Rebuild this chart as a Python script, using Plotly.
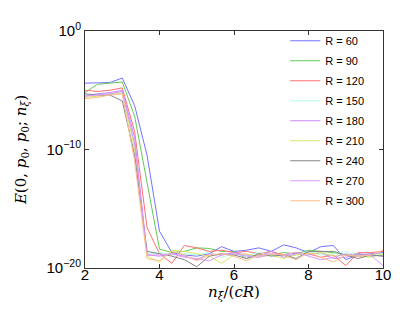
import plotly.graph_objects as go

# x grid n_xi/(cR)
x_vals = [2 + k / 3 for k in range(25)]

# log10 of E values
R60 = [-4.4, -4.4, -4.35, -3.97, -6.3, -10.5, -16.9, -18.7, -18.9, -19.0, -18.8, -18.2, -18.6, -18.5, -18.3, -18.6, -18.05, -18.3, -18.7, -18.2, -18.1, -19.3, -18.9, -18.8, -18.7]
R90 = [-5.2, -4.5, -4.4, -4.3, -7.2, -12.8, -18.4, -18.7, -18.6, -18.3, -18.35, -18.6, -18.6, -19.2, -18.9, -18.9, -18.7, -18.8, -18.5, -18.6, -18.7, -18.9, -18.8, -19.0, -18.9]
R120 = [-5.0, -5.1, -5.0, -4.8, -8.5, -16.6, -18.8, -19.6, -18.1, -18.3, -18.6, -18.5, -18.7, -18.6, -18.8, -18.6, -18.9, -18.7, -18.8, -19.1, -18.9, -19.8, -18.7, -18.7, -18.6]
R150 = [-5.4, -5.3, -5.3, -5.2, -9.5, -18.8, -18.7, -18.9, -18.8, -18.9, -18.7, -19.1, -18.8, -19.0, -18.7, -18.8, -19.0, -18.9, -18.6, -18.9, -18.8, -18.6, -19.0, -18.9, -18.8]
R180 = [-5.5, -5.3, -5.2, -5.0, -9.0, -18.9, -19.0, -18.8, -19.0, -19.3, -18.8, -18.9, -18.7, -18.9, -19.0, -18.6, -19.1, -18.8, -18.9, -18.7, -19.2, -19.1, -18.8, -18.9, -19.0]
R210 = [-5.6, -5.5, -5.4, -5.2, -10.0, -19.0, -19.5, -18.5, -18.6, -18.8, -19.0, -19.6, -18.9, -18.8, -19.1, -18.9, -19.2, -18.9, -18.8, -18.7, -19.0, -18.9, -19.0, -19.1, -18.8]
R240 = [-5.3, -5.4, -5.4, -5.9, -10.5, -18.6, -18.8, -19.0, -19.3, -19.9, -19.0, -18.8, -18.9, -19.2, -18.8, -19.0, -18.9, -19.2, -18.6, -18.6, -18.6, -18.9, -19.2, -18.9, -19.0]
R270 = [-5.5, -5.4, -5.3, -5.1, -9.5, -18.9, -18.9, -18.8, -19.1, -19.2, -19.4, -18.9, -18.8, -19.0, -19.1, -18.8, -18.9, -18.7, -19.0, -19.3, -19.1, -18.8, -19.0, -18.9, -19.8]
R300 = [-5.7, -5.6, -5.4, -5.3, -11.0, -19.2, -19.4, -18.6, -18.9, -19.4, -18.9, -18.8, -19.0, -19.4, -18.9, -18.8, -18.9, -19.3, -18.7, -19.1, -19.5, -18.9, -19.0, -18.9, -18.5]

series_names = ["R = 60", "R = 90", "R = 120", "R = 150", "R = 180",
                "R = 210", "R = 240", "R = 270", "R = 300"]
series_logs = [R60, R90, R120, R150, R180, R210, R240, R270, R300]
colors = ["#7373ff", "#62c955", "#ff6f6f", "#b3ffe2", "#cc88ff",
          "#d4e866", "#858585", "#dd99ff", "#ffbb8c"]

y_tickvals = [1e-20, 1e-10, 1e0]
y_ticktext = ["10<sup>\u221220</sup>", "10<sup>\u221210</sup>", "10<sup>0</sup>"]
x_tickvals = [2, 4, 6, 8, 10]

fig = go.Figure()
for name, logs, col in zip(series_names, series_logs, colors):
    fig.add_trace(go.Scatter(
        x=x_vals, y=[10 ** v for v in logs], mode="lines", name=name,
        legendgroup=name,
        line=dict(color=col, width=1),
    ))

axis_col = "#333333"
fig.update_layout(
    width=415, height=313,
    margin=dict(l=77, r=40, t=23, b=53),
    paper_bgcolor="white", plot_bgcolor="white",
    font=dict(family="Liberation Sans, Arial, sans-serif", color="black"),
    showlegend=True,
    legend=dict(
        x=0.672, y=1.02, xanchor="left", yanchor="top",
        bgcolor="rgba(255,255,255,0)", borderwidth=0,
        font=dict(size=11, family="Liberation Sans, Arial, sans-serif"),
        tracegroupgap=1, maxheight=1,
    ),
    xaxis=dict(
        range=[2, 10], tickvals=x_tickvals,
        showgrid=False, zeroline=False,
        showline=True, linecolor=axis_col, linewidth=1, mirror="ticks",
        ticks="inside", ticklen=4, tickcolor=axis_col,
        tickfont=dict(size=15), ticklabelstandoff=-7,
        title=dict(text="<i>n</i><sub><i>ξ</i></sub>/(<i>cR</i>)",
                   font=dict(size=15, family="DejaVu Serif, serif"), standoff=0),
    ),
    yaxis=dict(
        type="log", range=[-20, 0], tickvals=y_tickvals, ticktext=y_ticktext,
        showgrid=False, zeroline=False,
        showline=True, linecolor=axis_col, linewidth=1, mirror="ticks",
        ticks="inside", ticklen=4, tickcolor=axis_col,
        tickfont=dict(size=15),
        title=dict(text="<i>E</i>(0, <i>p</i><sub>0</sub>, <i>p</i><sub>0</sub>; <i>n</i><sub><i>ξ</i></sub>)",
                   font=dict(size=15, family="DejaVu Serif, serif"), standoff=16),
    ),
)

fig.write_html("out.html")
